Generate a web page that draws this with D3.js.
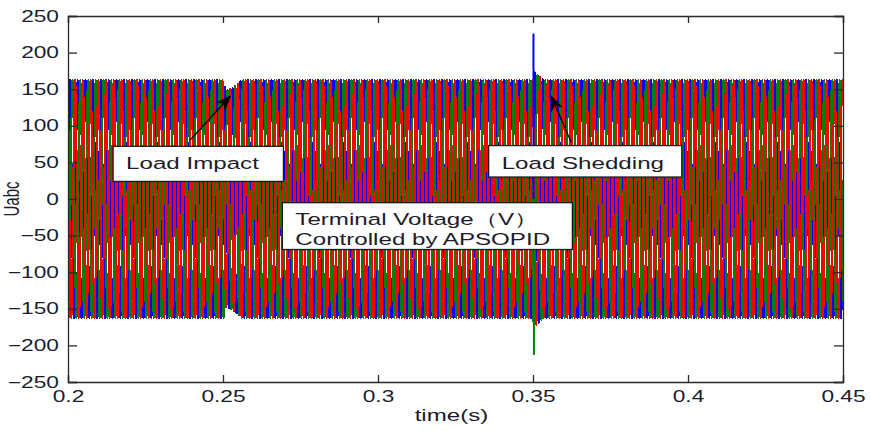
<!DOCTYPE html>
<html>
<head>
<meta charset="utf-8">
<script src="https://cdn.jsdelivr.net/npm/d3@7"></script>
<style>
  body { margin: 0; background: #fff; }
  svg text { font-family: "Liberation Sans", Arial, sans-serif; fill: #1c1c2a; }
</style>
</head>
<body>
<svg id="chart" width="870" height="431"></svg>
<script>
// ---- data ----
const timeDomain = [0.2, 0.45];
const voltDomain = [-250, 250];
const xTickValues = [0.2, 0.25, 0.3, 0.35, 0.4, 0.45];
const yTickValues = [-250, -200, -150, -100, -50, 0, 50, 100, 150, 200, 250];

// three phases, plotted in MATLAB order (blue, green, red)
const phaseNames = ['Ua', 'Ub', 'Uc'];
const phaseColors = ['#0000ff', '#008000', '#ff0000'];
const phaseShiftDeg = [0, -120, 120];
const supplyFreq = 400;      // Hz
const sampleStep = 1e-5;     // s

// amplitude envelope (peak volts) around load impact (0.25 s) and load shedding (0.35 s)
const envTimes = [0.2, 0.2503, 0.2508, 0.2530, 0.2560, 0.3500, 0.3503, 0.3535, 0.45];
const envPeaks = [162, 162, 147, 151, 162, 162, 174, 162, 162];

// overshoot spikes at load shedding
const spikeTimes = [0.35015, 0.35030];
const spikeValues = [226, -213];
const spikePhase = [0, 1];

// the original figure was stretched sideways, text included
const textStretch = 1.42;

// ---- chart ----
const margin = { top: 16, right: 27, bottom: 49, left: 68 };
const svg = d3.select('#chart');
const width = 870 - margin.left - margin.right;
const height = 431 - margin.top - margin.bottom;

const chart = svg.append('g')
    .attr('transform', `translate(${margin.left},${margin.top})`);

const xScale = d3.scaleLinear().domain(timeDomain).range([0, width]);
const yScale = d3.scaleLinear().domain(voltDomain).range([height, 0]);
const envelope = d3.scaleLinear().domain(envTimes).range(envPeaks).clamp(true);

chart.append('clipPath').attr('id', 'plot-clip')
  .append('rect').attr('width', width).attr('height', height);

const marks = chart.append('g').attr('clip-path', 'url(#plot-clip)');

const times = d3.range(timeDomain[0], timeDomain[1] + sampleStep / 2, sampleStep);

const line = d3.line()
    .x(d => xScale(d[0]))
    .y(d => yScale(d[1]));

phaseNames.forEach((name, i) => {
    const shift = phaseShiftDeg[i] * Math.PI / 180;
    const series = times.map(t => [t, envelope(t) * Math.sin(2 * Math.PI * supplyFreq * t + shift)]);
    marks.append('path')
        .datum(series)
        .attr('class', 'phase ' + name)
        .attr('fill', 'none')
        .attr('stroke', phaseColors[i])
        .attr('stroke-width', 2)
        .attr('shape-rendering', 'crispEdges')
        .attr('d', line);
});

marks.selectAll('.spike')
    .data(spikeTimes)
    .join('line')
    .attr('class', 'spike')
    .attr('x1', d => xScale(d))
    .attr('x2', d => xScale(d))
    .attr('y1', yScale(0))
    .attr('y2', (d, i) => yScale(spikeValues[i]))
    .attr('stroke', (d, i) => phaseColors[spikePhase[i]])
    .attr('stroke-width', 2);

// stretch a text element horizontally around its anchor
function stretch(sel) {
    sel.each(function() {
        const t = d3.select(this);
        const x = +t.attr('x') || 0, y = +t.attr('y') || 0;
        t.attr('x', 0).attr('y', 0)
         .attr('transform', `translate(${x},${y}) scale(${textStretch},1)`);
    });
}

// axes, MATLAB style: ticks inside, box on
const axisColor = '#2a2a2a';
const xAxis = d3.axisBottom(xScale).tickValues(xTickValues).tickSize(-7).tickPadding(9).tickFormat(d3.format(''));
const yAxis = d3.axisLeft(yScale).tickValues(yTickValues).tickSize(-9).tickPadding(9).tickFormat(d3.format(''));

chart.append('g')
    .attr('class', 'axis x-axis')
    .attr('transform', `translate(0,${height})`)
    .call(xAxis);
chart.append('g')
    .attr('class', 'axis y-axis')
    .call(yAxis);
chart.append('g')
    .call(d3.axisTop(xScale).tickValues(xTickValues).tickSize(-7).tickFormat(''));
chart.append('g')
    .attr('transform', `translate(${width},0)`)
    .call(d3.axisRight(yScale).tickValues(yTickValues).tickSize(-9).tickFormat(''));

chart.selectAll('.domain, .tick line')
    .attr('stroke', axisColor)
    .attr('stroke-width', 1.3);
chart.selectAll('.tick text')
    .attr('font-size', 16)
    .attr('fill', '#1c1c2a')
    .call(stretch);

// axis titles
svg.append('text')
    .attr('class', 'axis-title')
    .attr('text-anchor', 'middle')
    .attr('font-size', 15)
    .attr('transform', `translate(19,${margin.top + height / 2}) rotate(-90) scale(1,${textStretch})`)
    .text('Uabc');

svg.append('text')
    .attr('class', 'axis-title')
    .attr('text-anchor', 'middle')
    .attr('font-size', 17)
    .attr('x', margin.left + width / 2 - 4)
    .attr('y', 421)
    .call(stretch)
    .text('time(s)');

// annotations: box corners and arrow ends in data units
const notes = [
    { lines: ['Load Impact'], box: [0.21455, 0.2695, 72, 24], arrowFrom: [0.23925, 80], arrowTo: [0.25225, 140] },
    { lines: ['Load Shedding'], box: [0.3357, 0.398, 73, 30], arrowFrom: [0.3623, 78], arrowTo: [0.3559, 140] },
    { lines: ['Terminal Voltage\uff08V\uff09', 'Controlled by APSOPID'], box: [0.26915, 0.3627, -5, -69] }
];

svg.append('defs').append('marker')
    .attr('id', 'arrow-head')
    .attr('viewBox', '0 0 10 10')
    .attr('refX', 9).attr('refY', 5)
    .attr('markerWidth', 16).attr('markerHeight', 16)
    .attr('markerUnits', 'userSpaceOnUse')
    .attr('orient', 'auto')
  .append('path')
    .attr('d', 'M0,1 L10,5 L0,9 L3,5 Z')
    .attr('fill', '#000');

const noteGroup = chart.append('g').attr('class', 'notes');
notes.forEach(n => {
    const x0 = xScale(n.box[0]), x1 = xScale(n.box[1]);
    const y0 = yScale(n.box[2]), y1 = yScale(n.box[3]);
    noteGroup.append('rect')
        .attr('x', x0).attr('y', y0)
        .attr('width', x1 - x0).attr('height', y1 - y0)
        .attr('fill', '#fff')
        .attr('stroke', '#1a1a1a')
        .attr('stroke-width', 1.3);
    n.lines.forEach((txt, k) => {
        noteGroup.append('text')
            .attr('x', x0 + 13)
            .attr('y', y0 + (n.lines.length > 1 ? 22 : 23) + k * 20)
            .attr('font-size', 17)
            .call(stretch)
            .text(txt);
    });
    if (n.arrowFrom) {
        noteGroup.append('line')
            .attr('x1', xScale(n.arrowFrom[0])).attr('y1', yScale(n.arrowFrom[1]))
            .attr('x2', xScale(n.arrowTo[0])).attr('y2', yScale(n.arrowTo[1]))
            .attr('stroke', '#000')
            .attr('stroke-width', 1.3)
            .attr('marker-end', 'url(#arrow-head)');
    }
});
</script>
</body>
</html>
